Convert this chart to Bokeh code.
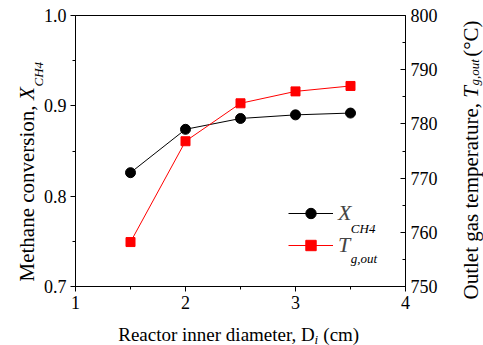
from bokeh.plotting import figure
from bokeh.models import (Range1d, LinearAxis, FixedTicker, PrintfTickFormatter,
                          Legend, LegendItem, Label)
from bokeh.embed import file_html
from bokeh.resources import INLINE

# ---- data ----
diameter = [1.5, 2.0, 2.5, 3.0, 3.5]
x_ch4 = [0.826, 0.874, 0.886, 0.890, 0.892]
t_gout = [758.2, 776.8, 783.8, 786.0, 787.0]

x_ticks = [1, 2, 3, 4]
x_minor = [1.5, 2.5, 3.5]
y_ticks = [0.7, 0.8, 0.9, 1.0]
y_minor = [0.75, 0.85, 0.95]
t_ticks = [750, 760, 770, 780, 790, 800]
t_minor = [755, 765, 775, 785, 795]

FONT = "Liberation Serif"

W, H = 483, 345
L, R, T, B = 75, 76, 15, 59

p = figure(width=W, height=H, x_range=Range1d(1, 4), y_range=Range1d(0.7, 1.0),
           output_backend="svg", toolbar_location=None,
           min_border_left=L, min_border_right=R, min_border_top=T, min_border_bottom=B,
           x_axis_location="below")
p.extra_y_ranges = {"T": Range1d(750, 800)}
p.xgrid.visible = False
p.ygrid.visible = False
p.outline_line_color = "black"
p.outline_line_width = 1
p.background_fill_color = "white"
p.border_fill_color = "white"

def style_axis(ax):
    ax.axis_line_color = "black"
    ax.major_tick_line_color = "black"
    ax.minor_tick_line_color = "black"
    ax.major_label_text_font = FONT
    ax.major_label_text_font_size = "18px"
    ax.major_label_text_color = "black"
    ax.axis_label = None

xa = p.xaxis[0]
xa.ticker = FixedTicker(ticks=x_ticks, minor_ticks=x_minor)
style_axis(xa)
xa.major_tick_out = 5
xa.major_tick_in = 0
xa.minor_tick_out = 3
xa.minor_tick_in = 0
xa.major_label_standoff = 4

ya = p.yaxis[0]
ya.ticker = FixedTicker(ticks=y_ticks, minor_ticks=y_minor)
ya.formatter = PrintfTickFormatter(format="%.1f")
style_axis(ya)
ya.major_tick_out = 5
ya.major_tick_in = 0
ya.minor_tick_out = 3
ya.minor_tick_in = 0
ya.major_label_standoff = 4

ra = LinearAxis(y_range_name="T", ticker=FixedTicker(ticks=t_ticks, minor_ticks=t_minor))
style_axis(ra)
ra.major_tick_out = 0
ra.major_tick_in = 5
ra.minor_tick_out = 0
ra.minor_tick_in = 3
ra.major_label_standoff = 5
p.add_layout(ra, "right")

# ---- series ----
lx = p.line(diameter, x_ch4, line_color="black", line_width=1)
sx = p.scatter(diameter, x_ch4, marker="circle", size=10, fill_color="black", line_color="black")
lt = p.line(diameter, t_gout, line_color="#ff0000", line_width=1, y_range_name="T")
st = p.scatter(diameter, t_gout, marker="square", size=9, fill_color="#ff0000",
               line_color="#ff0000", y_range_name="T")

legend = Legend(items=[LegendItem(label="X", renderers=[lx, sx]),
                       LegendItem(label="T", renderers=[lt, st])],
                location=(213, 28))
legend.label_text_font = FONT
legend.label_text_font_style = "italic"
legend.label_text_font_size = "22px"
legend.glyph_width = 45
legend.glyph_height = 26
legend.label_height = 26
legend.label_standoff = 5
legend.spacing = 6
legend.padding = 0
legend.margin = 0
legend.border_line_alpha = 0
legend.background_fill_alpha = 0
p.add_layout(legend)

# ---- pixel -> data helpers for text placement ----
def dx(px):
    return 1 + (px - L) * 3 / (W - L - R)

def dy(py):
    return 0.7 + (H - B - py) * 0.3 / (H - T - B)

def lab(text, px, py, size, style="normal", angle=0, side="center"):
    lbl = Label(x=dx(px), y=dy(py), text=text, text_font=FONT,
                text_font_size=size, text_font_style=style, text_color="black",
                angle=angle, angle_units="deg", text_align="left",
                text_baseline="alphabetic")
    if side == "center":
        p.add_layout(lbl)
    else:
        p.add_layout(lbl, side)

# legend subscripts (inside the frame)
lab("CH4", 352, 228, "13px", "italic")
lab("g,out", 352, 258, "13px", "italic")

# left axis title: Methane conversion, X_CH4
lab("Methane conversion, ", 26, 281, "21px", angle=90, side="left")
lab("X", 26, 99.6, "21px", "italic", angle=90, side="above")
lab("CH4", 37.5, 86, "13px", "italic", angle=90, side="left")

# right axis title: Outlet gas temperature, T_g,out (°C)
lab("Outlet gas temperature, \u2003\u2002\u2005\u2009(\u00b0C)", 473, 299, "21px",
    angle=90, side="right")
lab("T", 473, 97.2, "21px", "italic", angle=90, side="below")
lab("g,out", 476.5, 85, "13px", "italic", angle=90, side="right")

# bottom axis title: Reactor inner diameter, D_i (cm)
lab("Reactor inner diameter, D\u2009 (cm)", 118, 334, "19px", side="below")
lab("i", 315.5, 338.5, "13px", "italic", side="right")

open("out.html", "w").write(file_html(p, INLINE))
